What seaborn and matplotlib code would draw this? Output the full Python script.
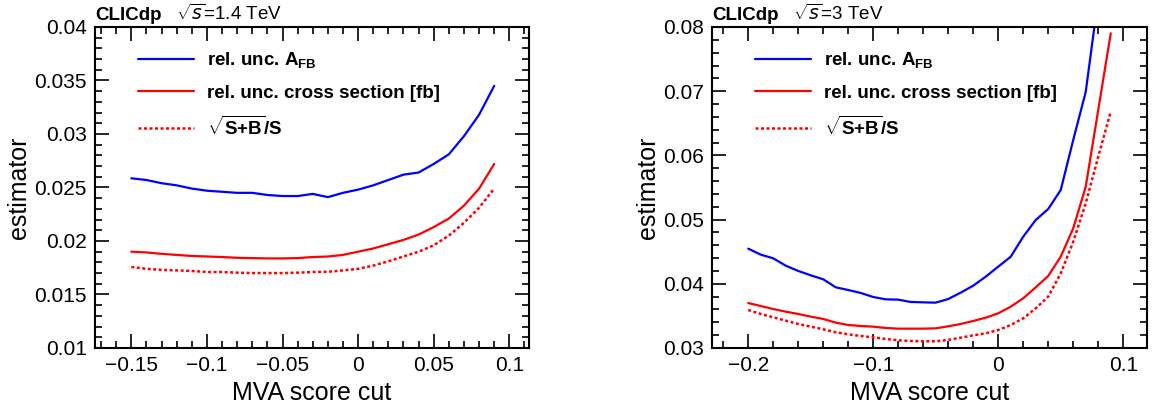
import matplotlib
matplotlib.use("Agg")
import matplotlib.pyplot as plt
from matplotlib.ticker import MultipleLocator
import seaborn as sns
import pandas as pd

# 1.4 TeV
cut_14 = [-0.15, -0.14, -0.13, -0.12, -0.11, -0.10, -0.09, -0.08, -0.07, -0.06, -0.05, -0.04,
          -0.03, -0.02, -0.01, 0.0, 0.01, 0.02, 0.03, 0.04, 0.05, 0.06, 0.07, 0.08, 0.09]
afb_14 = [0.02586, 0.0257, 0.0254, 0.0252, 0.0249, 0.0247, 0.0246, 0.0245, 0.0245, 0.0243, 0.0242, 0.0242,
          0.0244, 0.0241, 0.0245, 0.0248, 0.0252, 0.0257, 0.0262, 0.0264, 0.0272, 0.0281, 0.0298, 0.0318, 0.0345]
xsec_14 = [0.0190, 0.01893, 0.0188, 0.0187, 0.0186, 0.01855, 0.0185, 0.01843, 0.0184, 0.01837, 0.01837, 0.0184,
           0.0185, 0.01855, 0.0187, 0.0190, 0.0193, 0.0197, 0.0201, 0.0206, 0.0213, 0.0221, 0.0233, 0.0249, 0.0272]
sb_14 = [0.01757, 0.0174, 0.0173, 0.01725, 0.0172, 0.0171, 0.0171, 0.01704, 0.0170, 0.0170, 0.0170, 0.01704,
         0.0171, 0.01712, 0.01725, 0.0174, 0.0177, 0.0181, 0.01855, 0.0190, 0.0196, 0.0205, 0.0217, 0.0231, 0.0249]

# 3 TeV
cut_3 = [-0.20, -0.19, -0.18, -0.17, -0.16, -0.15, -0.14, -0.13, -0.12, -0.11, -0.10, -0.09, -0.08, -0.07, -0.06,
         -0.05, -0.04, -0.03, -0.02, -0.01, 0.0, 0.01, 0.02, 0.03, 0.04, 0.05, 0.06, 0.07, 0.08, 0.09]
afb_3 = [0.04547, 0.04454, 0.04397, 0.04282, 0.0420, 0.04132, 0.0407, 0.03945, 0.03903, 0.03857, 0.03794, 0.03758,
         0.03753, 0.03717, 0.03711, 0.03706, 0.03763, 0.03862, 0.03971, 0.04111, 0.04267, 0.04422, 0.04734, 0.04994,
         0.05165, 0.05461, 0.0624, 0.0699, 0.0845, 0.1000]
xsec_3 = [0.0370, 0.03654, 0.03607, 0.03566, 0.0353, 0.03488, 0.03452, 0.03395, 0.03358, 0.03343, 0.03332, 0.03312,
          0.03301, 0.03301, 0.03301, 0.03306, 0.03338, 0.03374, 0.03421, 0.03472, 0.0354, 0.03644, 0.03774, 0.03945,
          0.04122, 0.04423, 0.04864, 0.05513, 0.06707, 0.07901]
sb_3 = [0.03592, 0.0353, 0.03478, 0.03426, 0.03374, 0.03332, 0.03291, 0.03244, 0.03213, 0.03187, 0.03166, 0.0314,
        0.0312, 0.03109, 0.03104, 0.03104, 0.03125, 0.03161, 0.03197, 0.03228, 0.0328, 0.03358, 0.03462, 0.03618,
        0.0380, 0.04163, 0.04656, 0.05253, 0.0598, 0.06681]

sns.set_style("ticks")
plt.rcParams['font.family'] = ['Liberation Sans', 'DejaVu Sans']
plt.rcParams['mathtext.fontset'] = 'custom'
plt.rcParams['mathtext.rm'] = 'Liberation Sans'
plt.rcParams['mathtext.bf'] = 'Liberation Sans:bold'
for k in ['text.color', 'axes.labelcolor', 'xtick.color', 'ytick.color']:
    plt.rcParams[k] = 'black'

fig = plt.figure(figsize=(11.56, 4.16), dpi=100)
ax1 = fig.add_axes([0.0822, 0.1635, 0.3754, 0.7716])
ax2 = fig.add_axes([0.6159, 0.1635, 0.3763, 0.7716])

panels = [
    (ax1, cut_14, afb_14, xsec_14, sb_14, "=1.4 TeV", (-0.174, 0.113), (0.01, 0.04), 0.05, 0.01, 0.005, 0.001),
    (ax2, cut_3, afb_3, xsec_3, sb_3, "=3 TeV", (-0.229, 0.119), (0.03, 0.08), 0.1, 0.02, 0.01, 0.002),
]

for ax, cut, afb, xsec, sb, energy, xl, yl, xmaj, xmin, ymaj, ymin in panels:
    df = pd.DataFrame({"cut": cut, "afb": afb, "xsec": xsec, "sb": sb})
    sns.lineplot(data=df, x="cut", y="afb", color="#0000ff", lw=1.6, ax=ax,
                 label=r"rel. unc. A$_{\mathbf{FB}}$")
    sns.lineplot(data=df, x="cut", y="xsec", color="#ff0000", lw=1.6, ax=ax,
                 label="rel. unc. cross section [fb]")
    sns.lineplot(data=df, x="cut", y="sb", color="#ff0000", lw=1.8, ax=ax,
                 linestyle=(0, (1.2, 1.0)), label=r"$\sqrt{\mathbf{S{+}B}}\mathbf{/S}$")

    ax.set_xlim(*xl)
    ax.set_ylim(*yl)
    ax.xaxis.set_major_locator(MultipleLocator(xmaj))
    ax.xaxis.set_minor_locator(MultipleLocator(xmin))
    ax.yaxis.set_major_locator(MultipleLocator(ymaj))
    ax.yaxis.set_minor_locator(MultipleLocator(ymin))
    ax.xaxis.set_major_formatter(lambda v, p: ("%g" % round(v, 4)).replace("-", "\u2212"))
    ax.yaxis.set_major_formatter(lambda v, p: "%g" % round(v, 4))
    ax.tick_params(which="both", direction="in", top=True, right=True, labelsize=15, width=1.2)
    ax.tick_params(which="major", length=10, pad=6)
    ax.tick_params(which="minor", length=5)
    for s in ax.spines.values():
        s.set_linewidth(1.5)
        s.set_color("black")

    ax.set_xlabel("MVA score cut", fontsize=18, labelpad=4)
    ax.set_ylabel("estimator", fontsize=18, labelpad=2)

    ax.text(0.0, 1.01, "CLICdp", transform=ax.transAxes, fontsize=13.5, fontweight="bold",
            ha="left", va="bottom")
    ax.text(0.187, 1.01, r"$\sqrt{s}$" + energy, transform=ax.transAxes, fontsize=13.5,
            ha="left", va="bottom")

    leg = ax.legend(loc="upper left", bbox_to_anchor=(0.06, 0.98), frameon=False,
                    prop={"weight": "bold", "size": 13.5}, handlelength=3.0,
                    handletextpad=0.7, labelspacing=0.75)

fig.savefig("out.png", dpi=100)
